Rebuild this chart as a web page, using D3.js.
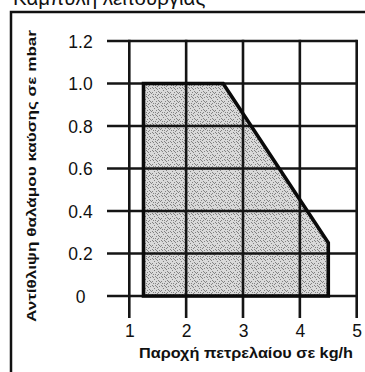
<!DOCTYPE html>
<html>
<head>
<meta charset="utf-8">
<script src="https://cdn.jsdelivr.net/npm/d3@7"></script>
<style>
  html, body { margin: 0; padding: 0; background: #fff; }
  svg { display: block; }
  text { font-family: "Liberation Sans", Arial, sans-serif; fill: #111; }
</style>
</head>
<body>
<svg id="chart" width="365" height="372"></svg>
<script>
// Operating range of the burner: oil flow (kg/h) vs. combustion chamber back-pressure (mbar)
const xTicks = [1, 2, 3, 4, 5];
const yTicks = [0, 0.2, 0.4, 0.6, 0.8, 1.0, 1.2];
const yTickLabels = ["0", "0.2", "0.4", "0.6", "0.8", "1.0", "1.2"];
const rangeFlow = [1.25, 2.65, 4.5, 4.5, 1.25];
const rangePressure = [1.0, 1.0, 0.25, 0, 0];

const titleText = "Καμπύλη λειτουργίας";
const xTitle = "Παροχή πετρελαίου σε kg/h";
const yTitle = "Αντίθλιψη θαλάμου καύσης σε mbar";

const svg = d3.select("#chart");

const x = d3.scaleLinear().domain([1, 5]).range([129.3, 356.7]);
const y = d3.scaleLinear().domain([0, 1.2]).range([296, 41]);

const pts = rangeFlow.map((v, i) => [x(v), y(rangePressure[i])]);
const line = d3.line().curve(d3.curveLinearClosed);

// translucent stipple so the grid always reads through the shaded area
const defs = svg.append("defs");
const pat = defs.append("pattern").attr("id", "stipple")
  .attr("patternUnits", "userSpaceOnUse").attr("width", 9).attr("height", 9);
pat.append("rect").attr("width", 9).attr("height", 9)
  .attr("fill", "#000").attr("fill-opacity", 0.15);
const specks = [[1,0],[5,1],[8,2],[3,2],[7,3],[0,4],[4,5],[2,6],[6,7],[6,2],[2,4],[8,6],[4,8],[0,7],[5,4],[3,7]];
pat.selectAll("rect.s").data(specks).join("rect").attr("class", "s")
  .attr("x", d => d[0]).attr("y", d => d[1]).attr("width", 1).attr("height", 1)
  .attr("fill", "#000").attr("fill-opacity", 0.4);

// outer frame (top and left edges)
svg.append("path")
  .attr("d", "M11,372 L11,12 L366,12")
  .attr("fill", "none").attr("stroke", "#111").attr("stroke-width", 2.5);

// title, mostly cut off by the top edge
svg.append("text")
  .attr("x", 13).attr("y", 4.5)
  .style("font-size", "20.5px")
  .text(titleText);

// shaded operating area
svg.append("path")
  .attr("d", line(pts))
  .attr("fill", "url(#stipple)");

// grid lines, extending past the plot as tick marks
const gridColor = "#151515";
svg.selectAll("line.hgrid").data(yTicks).join("line").attr("class", "hgrid")
  .attr("x1", 107).attr("x2", x(5))
  .attr("y1", d => y(d)).attr("y2", d => y(d))
  .attr("stroke", gridColor).attr("stroke-width", 2.6);
svg.selectAll("line.vgrid").data(xTicks).join("line").attr("class", "vgrid")
  .attr("x1", d => x(d)).attr("x2", d => x(d))
  .attr("y1", y(1.2) - 1.3).attr("y2", 318)
  .attr("stroke", gridColor).attr("stroke-width", 2.6);

// tick labels through the axis generators
const gy = svg.append("g").attr("transform", "translate(80.5,0)")
  .call(d3.axisLeft(y).tickValues(yTicks)
    .tickFormat((d, i) => yTickLabels[i]).tickSize(0).tickPadding(0));
gy.select(".domain").remove();
gy.selectAll(".tick text")
  .attr("x", 0).attr("text-anchor", "middle").attr("dy", "0.36em")
  .style("font-size", "17.5px").style("fill", "#111");

const gx = svg.append("g").attr("transform", "translate(0,318)")
  .call(d3.axisBottom(x).tickValues(xTicks)
    .tickFormat(d3.format("d")).tickSize(0).tickPadding(0));
gx.select(".domain").remove();
gx.selectAll(".tick text")
  .attr("y", 6.5).attr("dy", "0.71em")
  .style("font-size", "17.5px").style("fill", "#111");

// outline of the operating area
svg.append("path")
  .attr("d", line(pts))
  .attr("fill", "none").attr("stroke", "#0a0a0a")
  .attr("stroke-width", 3.6).attr("stroke-linejoin", "miter");

// axis titles
svg.append("text")
  .attr("x", 246).attr("y", 358)
  .attr("text-anchor", "middle")
  .attr("textLength", 214).attr("lengthAdjust", "spacingAndGlyphs")
  .style("font-size", "14px").style("font-weight", "bold")
  .text(xTitle);

svg.append("text")
  .attr("transform", "translate(36,176) rotate(-90)")
  .attr("text-anchor", "middle")
  .attr("textLength", 292).attr("lengthAdjust", "spacingAndGlyphs")
  .style("font-size", "13px").style("font-weight", "bold")
  .text(yTitle);
</script>
</body>
</html>
